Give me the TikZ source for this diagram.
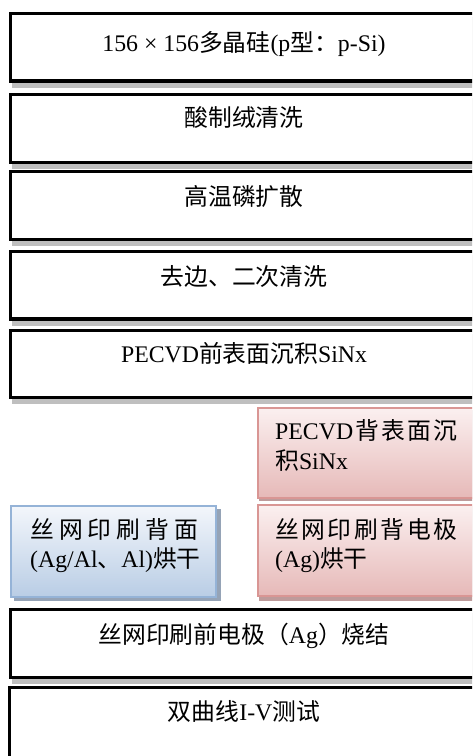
\documentclass[tikz,border=0pt]{standalone}
\usepackage{fontspec}
\setmainfont{Liberation Serif}
\newfontfamily\cjk{Noto Sans CJK SC}
\newcommand{\cj}[1]{{\cjk #1}}
\definecolor{shadowgray}{HTML}{BFBFBF}
\definecolor{pinkborder}{HTML}{D99694}
\definecolor{pinktop}{HTML}{FBF0F0}
\definecolor{pinkbot}{HTML}{E6B9B8}
\definecolor{pinkshadow}{HTML}{BE9B9B}
\definecolor{blueborder}{HTML}{95B3D7}
\definecolor{bluetop}{HTML}{F3F6FB}
\definecolor{bluebot}{HTML}{B9CDE5}
\definecolor{blueshadow}{HTML}{95A3B6}
\begin{document}
\begin{tikzpicture}[x=1pt,y=-1pt,
  mainbox/.style={draw=black, line width=3.4pt, fill=white},
  mainshadow/.style={fill=shadowgray},
  pinkbox/.style={draw=pinkborder, line width=2pt, top color=pinktop, bottom color=pinkbot},
  bluebox/.style={draw=blueborder, line width=2pt, top color=bluetop, bottom color=bluebot},
  txt/.style={font=\fontsize{23.8}{28}\selectfont, inner sep=0pt, text=black},
  ctxt/.style={txt, anchor=base},
  ltxt/.style={txt, anchor=base west}]
\useasboundingbox (0,0) rectangle (472,756);
\clip (0,0) rectangle (472,756);
% shadows of main boxes
\foreach \t/\b in {11.5/82.5, 92.5/164, 169.5/241, 249.5/320.5, 328.5/399, 607.5/679}
  \fill[mainshadow] (12,\t+5) rectangle (490,\b+5);
% main boxes
\draw[mainbox] (10.7,13.2) rectangle (480,80.8);
\draw[mainbox] (10.7,94.2) rectangle (480,162.3);
\draw[mainbox] (10.7,171.2) rectangle (480,239.3);
\draw[mainbox] (10.7,251.2) rectangle (480,318.8);
\draw[mainbox] (10.7,330.2) rectangle (480,397.3);
\draw[mainbox] (10.7,609.2) rectangle (480,677.3);
\draw[mainbox, line width=3pt] (9,687.5) rectangle (480,770);
% side boxes
\fill[pinkshadow] (259,410) rectangle (490,501);
\fill[pinkshadow] (259,506) rectangle (490,601);
\fill[blueshadow] (14,509) rectangle (221,601);
\draw[pinkbox] (258,407.5) rectangle (480,498);
\draw[pinkbox] (258,504.5) rectangle (480,596);
\draw[bluebox] (11,506) rectangle (216,596.5);
% texts
\node[ctxt] (t1) at (244,51.7) {156 × 156\cj{多晶硅}(p\cj{型：}p-Si)};
\node[ctxt] (t2) at (244,126) {\cj{酸制绒清洗}};
\node[ctxt] (t3) at (244,205) {\cj{高温磷扩散}};
\node[ctxt] (t4) at (244,285) {\cj{去边、二次清洗}};
\node[ctxt] (t5) at (244,362) {PECVD\cj{前表面沉积}SiNx};
\node[ltxt] (p1a) at (275,439) {\hbox to 182pt{PECVD\hfil\cj{背}\hfil\cj{表}\hfil\cj{面}\hfil\cj{沉}}};
\node[ltxt] (p1b) at (275,469) {\cj{积}SiNx};
\node[ltxt] (p2a) at (275,538) {\hbox to 182pt{\cj{丝}\hfil\cj{网}\hfil\cj{印}\hfil\cj{刷}\hfil\cj{背}\hfil\cj{电}\hfil\cj{极}}};
\node[ltxt] (p2b) at (275,567) {(Ag)\cj{烘干}};
\node[ltxt] (b1a) at (30,538) {\hbox to 168pt{\cj{丝}\hfil\cj{网}\hfil\cj{印}\hfil\cj{刷}\hfil\cj{背}\hfil\cj{面}}};
\node[ltxt] (b1b) at (30,567) {(Ag/Al\cj{、}Al)\cj{烘干}};
\node[ctxt] (t6) at (244,643) {\cj{丝网印刷前电极（}Ag\cj{）烧结}};
\node[ctxt] (t7) at (244,720) {\cj{双曲线}I-V\cj{测试}};
\end{tikzpicture}
\end{document}
